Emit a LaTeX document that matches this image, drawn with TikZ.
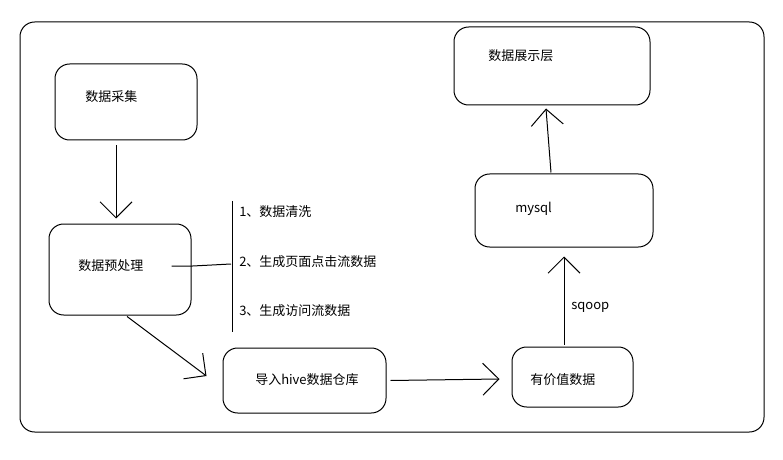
\documentclass[tikz,border=0pt]{standalone}
\usepackage{fontspec}
\newfontfamily\cjk{Noto Sans CJK SC}
\usetikzlibrary{arrows.meta}
\begin{document}
\begin{tikzpicture}[x=0.75pt,y=-0.75pt,
  box/.style={draw,line width=0.75pt,rounded corners=11pt,inner sep=0pt,minimum width=#1},
  txt/.style={font=\cjk\fontsize{9.75pt}{12pt}\selectfont,anchor=west,inner sep=0pt},
  conn/.style={line width=0.75pt},
  arr/.style={conn,-{Straight Barb[length=12pt,width=24pt,line width=0.75pt]}}]
\useasboundingbox (0,0) rectangle (783,460);
\node[draw,line width=0.75pt,rounded corners=11pt,minimum width=744*0.75pt,minimum height=410*0.75pt,inner sep=0pt] (frame) at (392,227) {};
% boxes
\node[box=142*0.75pt,minimum height=76*0.75pt] (acq) at (126,102) {};
\node[box=142*0.75pt,minimum height=91*0.75pt] (pre) at (120,269.5) {};
\node[box=163*0.75pt,minimum height=65*0.75pt] (hive) at (304.5,380.5) {};
\node[box=121*0.75pt,minimum height=60*0.75pt] (val) at (572.5,377) {};
\node[box=178*0.75pt,minimum height=73*0.75pt] (mysql) at (564,210.5) {};
\node[box=196*0.75pt,minimum height=78*0.75pt] (show) at (552,66) {};
% texts
\node[txt] (tacq) at (85,97) {数据采集};
\node[txt] (tpre) at (78,266) {数据预处理};
\node[txt] (thive) at (255,380) {导入hive数据仓库};
\node[txt] (tval) at (530,380) {有价值数据};
\node[txt] (tmysql) at (515,209) {mysql};
\node[txt] (tshow) at (488,56) {数据展示层};
\node[txt] (l1) at (239,212) {1、数据清洗};
\node[txt] (l2) at (239,262) {2、生成页面点击流数据};
\node[txt] (l3) at (239,311) {3、生成访问流数据};
\node[txt] (tsqoop) at (571,307) {sqoop};
% bracket
\coordinate (bt) at (232,201);
\coordinate (bb) at (232,332);
\coordinate (bm) at (231,264);
\draw[conn] (bt) -- (bb);
\draw[conn] ([xshift=21]tpre.east) -- ([xshift=2]tpre.east -| 190,0) -- (bm);
% connectors
\draw[arr] ([shift={(-10,5)}]acq.south) -- ([shift={(-4,-5)}]pre.north);
\draw[arr] ([shift={(7,1)}]pre.south) -- ([shift={(-16,-4.5)}]hive.west);
\draw[arr] ([shift={(4,0)}]hive.east) -- ([shift={(-12,2)}]val.west);
\draw[arr] ([shift={(-8.5,-2)}]val.north) -- ([shift={(0,9)}]mysql.south);
\draw[arr] ([shift={(-13,-1)}]mysql.north) -- ([shift={(-6,3)}]show.south);
\end{tikzpicture}
\end{document}
